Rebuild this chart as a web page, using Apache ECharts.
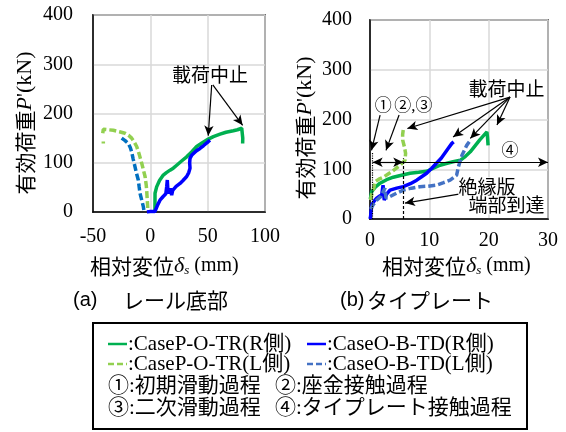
<!DOCTYPE html>
<html>
<head>
<meta charset="utf-8">
<script src="https://cdn.jsdelivr.net/npm/echarts@6/dist/echarts.min.js"></script>
<style>
html,body{margin:0;padding:0;background:#fff;}
#main{width:566px;height:432px;}
</style>
</head>
<body>
<div id="main"></div>
<script>
// (a) レール底部  相対変位(mm), 有効荷重(kN)
var aGreenR = [[4,0],[4.1,38],[5.5,51],[8,64],[11.3,75],[14,80],[17.2,85],[20,89],[23,95],[27,103],[31.7,112],[36,122],[40.4,133],[45,140],[50.6,148],[55,153],[60.8,158],[66,162],[72.4,165],[76,167],[79.7,170],[80.5,168],[80.6,150],[80.5,139]];
var aBlueR = [[-3,0],[0,1],[4,1],[5,5],[6.5,15],[8.4,24],[11,31],[13.5,37],[14.3,52],[14.8,65],[15.3,45],[16.5,38],[17.5,48],[18.6,34],[19.5,44],[20,48],[22.5,52],[25.9,58],[28.5,64],[31.7,72],[33.5,80],[34.6,89],[34.3,100],[34.6,109],[36,115],[37.5,119],[40,124],[43.3,129],[46.5,135],[50.6,143],[52,146]];
var aLightGreenL = [[-41,139],[-41,143],['-','-'],[-41.5,160],[-41,168],[-37,167],[-32.3,166],[-27,163],[-22.1,160],[-19,156],[-16.3,150],[-14,142],[-11.9,133],[-9.8,118],[-7.5,99],[-6,85],[-4.6,72],[-3.6,55],[-3.2,45],[-2.7,25],[-2.3,11],[-2.2,2]];
var aBlueL = [[-25,150],[-22,145],[-19.2,139],[-17.5,131],[-16.3,122],[-15,108],[-13.4,92],[-12,78],[-10.5,65],[-9.8,52],[-9,38],[-7.5,24],[-6.1,11],[-5.5,1]];

// (b) タイプレート
var bGreenR = [[0.05,40],[0.28,55],[0.9,64],[1.69,72],[2.8,79],[3.93,84],[5.3,88],[6.74,92],[8.2,94],[9.55,96],[10.7,102],[11.8,108],[13,112],[14,115],[15.2,118],[16.1,126],[16.9,135],[17.7,147],[18.5,159],[19.1,167],[19.7,175],[19.8,165],[19.9,148]];
var bBlueR = [[0,0],[0.1,5],[0.28,28],[0.7,36],[1.13,42],[1.6,46],[1.97,48],[2.2,68],[2.4,38],[2.8,50],[3.37,58],[4.5,62],[5.6,65],[6.8,71],[7.87,78],[8.7,85],[9.55,92],[10.4,102],[11.2,112],[12,122],[12.6,132],[13.2,142],[13.8,152],[14.1,155]];
var bLightGreenL = [[0.1,38],[0.3,50],[0.56,58],[0.84,75],[1.5,80],[2.24,84],[3,90],[3.66,95],[4.4,102],[5.06,108],[5.5,113],[5.9,118],[6.1,122],[6.0,132],[5.8,145],[5.5,159],[5.5,170],[5.6,179]];
var bBlueL = [[0.1,20],[0.5,28],[1.13,38],[1.8,45],[2.5,62],[2.7,42],[3.37,45],[4.5,52],[5.6,58],[7,62],[8.4,65],[9.8,66],[11.2,68],[12.4,73],[13.5,78],[14.6,88],[14.9,105],[15.2,117],[15.5,128],[15.9,138],[16.3,148],[16.9,158]];

var seriesNames = ['CaseP-O-TR(R側)', 'CaseO-B-TD(R側)', 'CaseP-O-TR(L側)', 'CaseO-B-TD(L側)'];
var xTicksA = [-50, 100, 50];   // min, max, interval
var xTicksB = [0, 30, 10];
var yTicks = [0, 400, 100];

var cGreen = '#00B050', cBlue = '#0000FF', cLGreen = '#92D050', cLBlueA = '#0070C0', cLBlueB = '#4472C4';
var serif = "'Liberation Serif','Noto Sans CJK JP'";
var cjk = "'Noto Sans CJK JP'";

// annotations (data coords)
var aArrows = [[[53.5,258],[50.5,155]], [[54.5,258],[80.5,176]]];
var bArrows = [[[23.6,245],[6.3,182]], [[23.6,245],[14.0,165]], [[23.6,245],[16.9,162]], [[23.6,245],[21.4,189]],
               [[1.7,209],[0.25,138]], [[4.9,209],[2.7,138]], [[16.0,52],[5.9,32]]];

function arrow(p, q, h0, h1, ls) {
  var s = {coord: p, symbol: h0 ? 'arrow' : 'none', symbolSize: [7,10]};
  if (ls) s.lineStyle = ls;
  return [s, {coord: q, symbol: h1 ? 'arrow' : 'none', symbolSize: [7,10]}];
}

function line(name, data, color, idx, dashed, mark) {
  var s = {
    name: name, type: 'line', data: data, xAxisIndex: idx, yAxisIndex: idx,
    showSymbol: false, symbol: 'none', connectNulls: false,
    lineStyle: {color: color, width: 3.5, type: dashed ? [7,3] : 'solid'},
    itemStyle: {color: color}, silent: true
  };
  if (mark) s.markLine = {silent: true, animation: false, label: {show: false},
    lineStyle: {color: '#000', width: 1.2, type: 'solid'}, emphasis: {disabled: true}, data: mark};
  return s;
}

var aMarks = aArrows.map(function (a) { return arrow(a[0], a[1], false, true); });
var bMarks = bArrows.map(function (a) { return arrow(a[0], a[1], false, true); });
bMarks.push(arrow([0.45,0],[0.45,135], false, false, {type:'dotted', width:1.2, color:'#000'}));
bMarks.push(arrow([5.6,0],[5.6,122], false, false, {type:[3,2], width:1.2, color:'#000'}));
bMarks.push(arrow([0.45,114],[5.6,114], true, true));
bMarks.push(arrow([5.6,114],[30,114], false, true));

function xAx(idx, t, margin) {
  return {type:'value', gridIndex: idx, min: t[0], max: t[1], interval: t[2],
    axisLine:{show:true, onZero:false, lineStyle:{color:'#000', width:1.5}}, axisTick:{show:false},
    axisLabel:{color:'#000', fontFamily:'Liberation Serif', fontSize:20, margin: margin},
    splitLine:{show:true, lineStyle:{color:'#D9D9D9', width:1.5}}};
}
function yAx(idx, margin) {
  return {type:'value', gridIndex: idx, min: yTicks[0], max: yTicks[1], interval: yTicks[2],
    axisLine:{show:true, onZero:false, lineStyle:{color:'#000', width:1.5}}, axisTick:{show:false},
    axisLabel:{color:'#000', fontFamily:'Liberation Serif', fontSize:20, margin: margin},
    splitLine:{show:true, lineStyle:{color:'#D9D9D9', width:1.5}}};
}

function txt(x, y, text, size, font, align, extra) {
  var st = {text: text, fill: '#000', font: size + 'px ' + (font || cjk), align: align || 'center', verticalAlign: 'middle'};
  if (extra) for (var k in extra) st[k] = extra[k];
  return {type: 'text', x: x, y: y, style: st, z: 100};
}
var yTitleRich = {
  j: {fontFamily: cjk, fontSize: 21},
  i: {fontFamily: 'Liberation Serif', fontSize: 22, fontStyle: 'italic'},
  r: {fontFamily: 'Liberation Serif', fontSize: 22}
};
var xTitleRich = {
  j: {fontFamily: cjk, fontSize: 21, lineHeight: 24, verticalAlign: 'middle'},
  d: {fontFamily: 'Liberation Serif', fontSize: 22, fontStyle: 'italic', lineHeight: 24},
  s: {fontFamily: 'Liberation Serif', fontSize: 13, fontStyle: 'italic', lineHeight: 24, padding: [10,0,0,0]},
  r: {fontFamily: 'Liberation Serif', fontSize: 20, lineHeight: 24}
};
var yTitle = '{j|有効荷重}{i|P}{r|\'(kN)}';
var xTitle = '{j|相対変位}{d|δ}{s|s}{r| (mm)}';

// static texts + legend box
var g = [];
g.push({type:'text', x: 25, y: 123, rotation: Math.PI/2, z: 100,
  style:{text: yTitle, rich: yTitleRich, fill:'#000', align:'center', verticalAlign:'middle'}});
g.push({type:'text', x: 305, y: 128, rotation: Math.PI/2, z: 100,
  style:{text: yTitle, rich: yTitleRich, fill:'#000', align:'center', verticalAlign:'middle'}});
g.push({type:'text', x: 90, y: 266, z: 100, style:{text: xTitle, rich: xTitleRich, fill:'#000', align:'left', verticalAlign:'middle'}});
g.push({type:'text', x: 382, y: 266, z: 100, style:{text: xTitle, rich: xTitleRich, fill:'#000', align:'left', verticalAlign:'middle'}});
g.push(txt(73, 300, '(a)', 20, "'Liberation Sans'", 'left'));
g.push(txt(123, 300, 'レール底部', 21, cjk, 'left'));
g.push(txt(340, 300, '(b)', 20, "'Liberation Sans'", 'left'));
g.push(txt(367, 300, 'タイプレート', 21, cjk, 'left'));

g.push({type:'rect', shape:{x: 93, y: 323, width: 434, height: 106}, style:{fill:'#fff', stroke:'#000', lineWidth: 2}, z: 90});
var legRows = [344, 364, 386, 408];
var legItems = [
  [108, legRows[0], cGreen, false, seriesNames[0]],
  [307, legRows[0], cBlue, false, seriesNames[1]],
  [108, legRows[1], cLGreen, true, seriesNames[2]],
  [307, legRows[1], cLBlueB, true, seriesNames[3]]
];
legItems.forEach(function (it) {
  g.push({type:'line', shape:{x1: it[0], y1: it[1], x2: it[0] + 19, y2: it[1]}, z: 100,
    style:{stroke: it[2], lineWidth: 2.5, lineDash: it[3] ? [6,3] : null}});
  g.push(txt(it[0] + 20, it[1], ':' + it[4], 21, serif, 'left'));
});
g.push(txt(108, legRows[2], '①:初期滑動過程', 21, serif, 'left'));
g.push(txt(275, legRows[2], '②:座金接触過程', 21, serif, 'left'));
g.push(txt(108, legRows[3], '③:二次滑動過程', 21, serif, 'left'));
g.push(txt(275, legRows[3], '④:タイプレート接触過程', 21, serif, 'left'));

var axes = {
  xAxis: [xAx(0, xTicksA, 15), xAx(1, xTicksB, 12)],
  yAxis: [yAx(0, 20), yAx(1, 18)]
};

var chart = echarts.init(document.getElementById('main'));
chart.setOption({
  animation: false,
  backgroundColor: '#fff',
  grid: [
    {left: 93, top: 15, width: 172, height: 197, show: true, borderColor: '#000', borderWidth: 1.5},
    {left: 370, top: 20, width: 178, height: 199, show: true, borderColor: '#000', borderWidth: 1.5}
  ],
  xAxis: axes.xAxis,
  yAxis: axes.yAxis,
  series: [
    line(seriesNames[0], aGreenR, cGreen, 0, false, aMarks),
    line(seriesNames[1], aBlueR, cBlue, 0, false),
    line(seriesNames[2], aLightGreenL, cLGreen, 0, true),
    line(seriesNames[3], aBlueL, cLBlueA, 0, true),
    line(seriesNames[0], bGreenR, cGreen, 1, false, bMarks),
    line(seriesNames[1], bBlueR, cBlue, 1, false),
    line(seriesNames[2], bLightGreenL, cLGreen, 1, true),
    line(seriesNames[3], bBlueL, cLBlueB, 1, true)
  ],
  graphic: g
});

// notes placed from data coordinates
function px(gi, p) { return chart.convertToPixel({gridIndex: gi}, p); }
var p;
p = px(0, [52, 278]); g.push(txt(p[0], p[1], '載荷中止', 19));
p = px(1, [23.0, 262]); g.push(txt(p[0], p[1], '載荷中止', 19));
p = px(1, [2.25, 227]); g.push(txt(p[0], p[1], '①', 17, serif));
p = px(1, [7.3, 227]); g.push(txt(p[0], p[1], '②,③', 17, serif));
p = px(1, [23.6, 135]); g.push(txt(p[0], p[1], '④', 17, serif));
p = px(1, [19.7, 65]); g.push(txt(p[0], p[1], '絶縁版', 19, cjk, 'center', {backgroundColor:'#fff'}));
p = px(1, [23.0, 28]); g.push(txt(p[0], p[1], '端部到達', 19, cjk, 'center', {backgroundColor:'#fff'}));
chart.setOption({graphic: g});

// redraw tick labels once the serif face is surely available
if (document.fonts && document.fonts.load) {
  document.fonts.load("20px 'Liberation Serif'").then(function () {
    chart.setOption({xAxis: axes.xAxis, yAxis: axes.yAxis});
  });
}
</script>
</body>
</html>
